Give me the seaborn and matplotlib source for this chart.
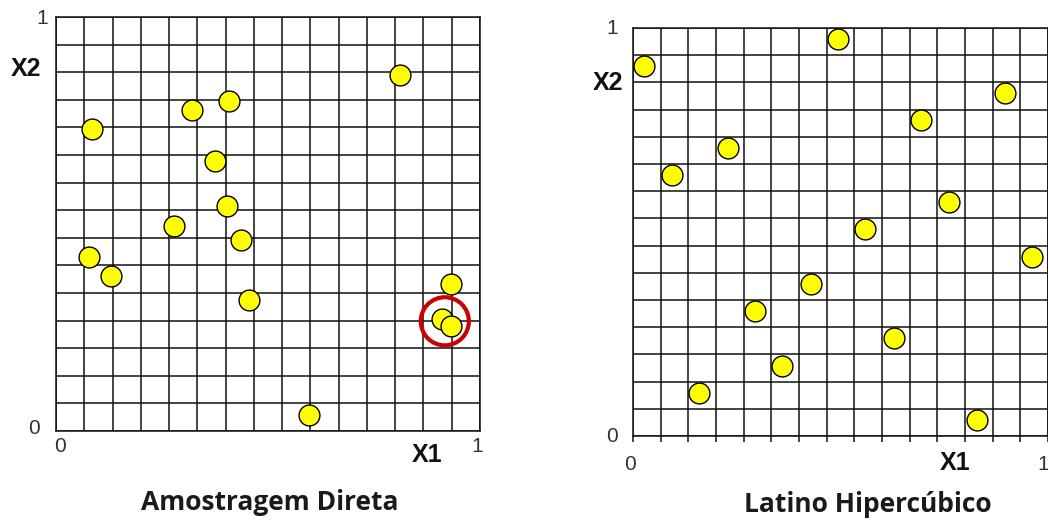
import numpy as np
import pandas as pd
import matplotlib
matplotlib.use("Agg")
import matplotlib.pyplot as plt
import seaborn as sns

# Direct (simple random) sampling of two variables
direct_x1 = [0.084, 0.321, 0.408, 0.812, 0.374, 0.404, 0.279, 0.437,
             0.079, 0.130, 0.455, 0.932, 0.910, 0.932, 0.597]
direct_x2 = [0.730, 0.776, 0.796, 0.860, 0.652, 0.544, 0.494, 0.462,
             0.420, 0.375, 0.317, 0.355, 0.270, 0.254, 0.039]

# Latin hypercube sampling: one point per row and per column
lhs_x1 = [0.027, 0.094, 0.160, 0.228, 0.295, 0.360, 0.429, 0.494,
          0.560, 0.629, 0.695, 0.762, 0.830, 0.896, 0.961]
lhs_x2 = [0.908, 0.640, 0.106, 0.707, 0.306, 0.172, 0.372, 0.974,
          0.507, 0.239, 0.774, 0.574, 0.039, 0.841, 0.439]

# Clustered pair highlighted in the direct sample
cluster_x1 = [0.917]
cluster_x2 = [0.265]

panel_titles = ["Amostragem Direta", "Latino Hipercúbico"]
n_div = 15

sns.set_theme(style="white")
plt.rcParams["font.family"] = ["DejaVu Sans"]

W, H = 1048, 524
fig = plt.figure(figsize=(W / 100, H / 100), dpi=100)


def px_axes(left, top, right, bottom):
    return fig.add_axes([left / W, 1 - bottom / H, (right - left) / W, (bottom - top) / H])


def style_grid(ax, bottom_ticks):
    grid = np.linspace(0, 1, n_div + 1)
    ax.set_xlim(0, 1)
    ax.set_ylim(0, 1)
    ax.set_xticks(grid)
    ax.set_yticks(grid)
    ax.set_xticklabels([])
    ax.set_yticklabels([])
    ax.grid(True, color="#111111", linewidth=1.1, zorder=1)
    ax.set_axisbelow(True)
    for sp in ax.spines.values():
        sp.set_color("#111111")
        sp.set_linewidth(1.1)
    ax.tick_params(axis="y", length=0)
    if bottom_ticks:
        ax.tick_params(axis="x", direction="out", length=4, width=1.1,
                       color="#111111", bottom=True)
    else:
        ax.tick_params(axis="x", length=0)
    ax.set_xlabel("")
    ax.set_ylabel("")


def ftext(x, y, s, **kw):
    fig.text(x / W, 1 - y / H, s, ha="center", va="center", **kw)


tick_kw = dict(fontsize=15, color="#333333", family=["Liberation Sans", "DejaVu Sans"])
axis_kw = dict(fontsize=18, fontweight="bold", color="#111111",
               family=["Liberation Sans", "DejaVu Sans"])
title_kw = dict(fontsize=19, fontweight="bold", color="#1a1a1a",
                family=["Open Sans", "DejaVu Sans"])

point_kw = dict(s=225, color="#FFFF00", edgecolor="black", linewidth=1.0,
                zorder=3, legend=False)

# Left panel: direct sampling
ax1 = px_axes(56, 17, 480, 431)
df_direct = pd.DataFrame({"X1": direct_x1, "X2": direct_x2})
sns.scatterplot(data=df_direct, x="X1", y="X2", ax=ax1, **point_kw)
sns.scatterplot(x=cluster_x1, y=cluster_x2, ax=ax1, s=1200, marker="o",
                facecolors="none", edgecolor="#CC0000", linewidth=3.0,
                zorder=4, legend=False)
style_grid(ax1, bottom_ticks=False)

ftext(42, 19, "1", **tick_kw)
ftext(34, 429, "0", **tick_kw)
ftext(60, 447, "0", **tick_kw)
ftext(477, 447, "1", **tick_kw)
ftext(26, 69, "X2", **axis_kw)
ftext(427, 455, "X1", **axis_kw)
ftext(270, 502, panel_titles[0], **title_kw)

# Right panel: Latin hypercube sampling
ax2 = px_axes(633, 28, 1048, 436)
df_lhs = pd.DataFrame({"X1": lhs_x1, "X2": lhs_x2})
sns.scatterplot(data=df_lhs, x="X1", y="X2", ax=ax2, **point_kw)
style_grid(ax2, bottom_ticks=True)

ftext(612, 29, "1", **tick_kw)
ftext(612, 436, "0", **tick_kw)
ftext(630, 465, "0", **tick_kw)
ftext(1043, 465, "1", **tick_kw)
ftext(608, 83, "X2", **axis_kw)
ftext(955, 463, "X1", **axis_kw)
ftext(868, 505, panel_titles[1], **title_kw)

fig.savefig("out.png", dpi=100, facecolor="white")
